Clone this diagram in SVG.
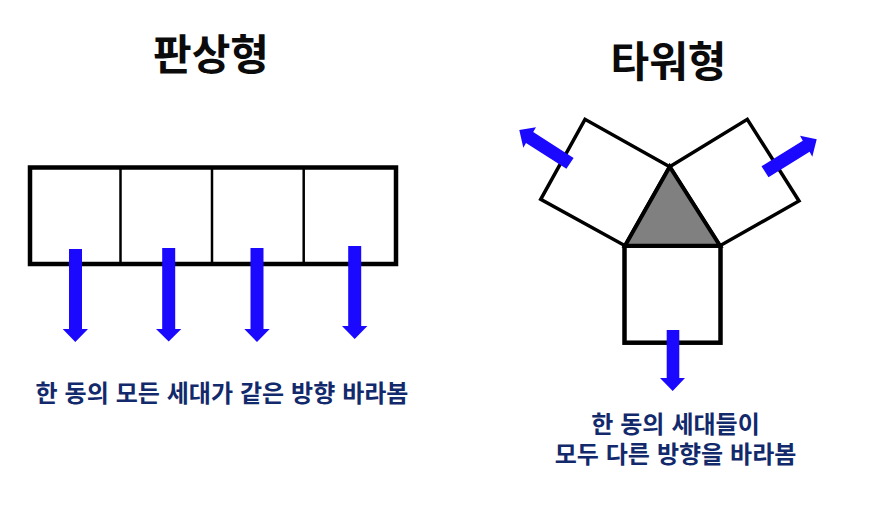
<svg xmlns="http://www.w3.org/2000/svg" width="874" height="528" viewBox="0 0 874 528">
<style>
.t{font-family:"Noto Sans CJK KR","Noto Sans",sans-serif;font-weight:700;text-anchor:middle}
.title{font-size:42px;fill:#0b0b0b}
.cap{font-size:24px;word-spacing:1.5px;fill:#12296b}
.box{fill:#fff;stroke:#000;stroke-width:4.5}
.panel{fill:#fff;stroke:#000;stroke-width:3.5;stroke-linejoin:miter}
.div{stroke:#000;stroke-width:2.5}
.arr{fill:#1a08ff}
</style>
<rect width="874" height="528" fill="#fff"/>
<g id="plate-block">
<rect class="box" x="30" y="167.500" width="366" height="96.500"/>
<line class="div" x1="120.500" y1="167" x2="120.500" y2="264"/>
<line class="div" x1="212" y1="167" x2="212" y2="264"/>
<line class="div" x1="303.700" y1="167" x2="303.700" y2="264"/>
</g>
<g id="tower-block">
<polygon class="panel" points="669.7,166.7 585,119.3 540.7,199.3 625,245.7"/>
<polygon class="panel" points="669.7,166.7 747.3,119.3 799,201 720,245.7"/>
<rect class="box" x="624.500" y="245.700" width="96" height="97"/>
<polygon points="669.7,166.7 625,245.7 720,245.7" fill="#808080" stroke="#000" stroke-width="4"/>
</g>
<g id="connectors">
<polygon class="arr" points="69,249 82,249 82,329 88,329 75.3,342 62.7,329 69,329"/>
<polygon class="arr" points="162.2,248 175.2,248 175.2,329 181.3,329 168.7,341.5 156,329 162.2,329"/>
<polygon class="arr" points="250.5,248 263.5,248 263.5,329 269.7,329 257,342 244.3,329 250.5,329"/>
<polygon class="arr" points="348.2,246 361.2,246 361.2,326 367.4,326 354.7,339 342,326 348.2,326"/>
<polygon class="arr" points="666.7,330 679.3,330 679.3,378 685,378 672.7,391 660,378 666.7,378"/>
<polygon class="arr" points="573.6,157.9 533.2,132.1 536,127.3 519.3,130 523.3,147.7 526,142.9 566.4,168.7"/>
<polygon class="arr" points="761.5,166.2 802.8,140.7 800,135.7 816.7,139.3 812.3,156.7 809.6,151.7 768.5,177.2"/>
</g>
<g id="titles">
<text class="t title" x="211" y="70">판상형</text>
<text class="t title" x="668.500" y="77">타워형</text>
</g>
<g id="captions">
<text class="t cap" x="222" y="402">한 동의 모든 세대가 같은 방향 바라봄</text>
<text class="t cap"><tspan x="675.500" y="433">한 동의 세대들이</tspan><tspan x="675.500" y="463">모두 다른 방향을 바라봄</tspan></text>
</g>
</svg>
